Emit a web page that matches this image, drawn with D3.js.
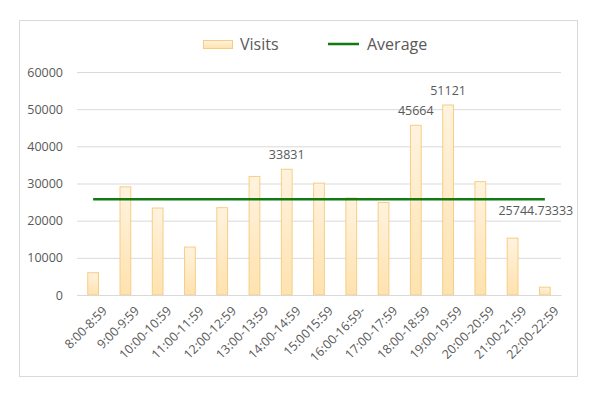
<!DOCTYPE html>
<html>
<head>
<meta charset="utf-8">
<script src="https://cdn.jsdelivr.net/npm/d3@7/dist/d3.min.js"></script>
<style>
  body { margin: 0; background: #fff; }
  text { font-family: "Open Sans", "Noto Sans", sans-serif; fill: #595959; }
</style>
</head>
<body>
<div id="chart"></div>
<script>
// hourly slots, as labelled in the source sheet (typos kept)
const hours = ['8:00-8:59', '9:00-9:59', '10:00-10:59', '11:00-11:59', '12:00-12:59',
  '13:00-13:59', '14:00-14:59', '15:0015:59', '16:00-16:59-', '17:00-17:59',
  '18:00-18:59', '19:00-19:59', '20:00-20:59', '21:00-21:59', '22:00-22:59'];
const visits = [6000, 29100, 23400, 12900, 23500, 31900, 33831, 30100, 26100, 24900,
  45664, 51121, 30500, 15300, 2100];
const average = 25744.73333;
const labelled = ['14:00-14:59', '18:00-18:59', '19:00-19:59'];
const yTicks = [0, 10000, 20000, 30000, 40000, 50000, 60000];

const W = 600, H = 397;
const margin = { top: 72, right: 39, bottom: 102, left: 77 };
const width = W - margin.left - margin.right,
  height = H - margin.top - margin.bottom;

const svg = d3.select('#chart').append('svg')
  .attr('width', W).attr('height', H);

// gradient for the bars, lighter at top
const grad = svg.append('defs').append('linearGradient')
  .attr('id', 'barFill').attr('x1', 0).attr('y1', 0).attr('x2', 0).attr('y2', 1);
grad.append('stop').attr('offset', '0%').attr('stop-color', '#fff3df');
grad.append('stop').attr('offset', '100%').attr('stop-color', '#ffe2ae');

// chart frame
svg.append('rect')
  .attr('x', 19.5).attr('y', 20.5).attr('width', 558).attr('height', 356)
  .attr('fill', '#fff').attr('stroke', '#d9d9d9');

const main = svg.append('g')
  .attr('transform', 'translate(' + margin.left + ',' + margin.top + ')');

const x = d3.scaleBand().domain(hours).range([0, width]);
const y = d3.scaleLinear().domain([0, 60000]).range([height, 0]);

// gridlines + y labels
const yAxis = d3.axisLeft(y).tickValues(yTicks).tickSize(-width).tickPadding(14)
  .tickFormat(d3.format('d'));
main.append('g').call(yAxis)
  .call(g => g.select('.domain').remove())
  .call(g => g.selectAll('.tick line').attr('stroke', '#d9d9d9'))
  .call(g => g.selectAll('.tick text').style('font-size', '12.5px').attr('fill', '#595959'));

// bars
const barW = x.bandwidth() / 3;
main.selectAll('rect.bar')
  .data(visits)
  .enter().append('rect')
  .attr('class', 'bar')
  .attr('x', (d, i) => x(hours[i]) + x.bandwidth() / 2 - barW / 2)
  .attr('y', d => y(d))
  .attr('width', barW)
  .attr('height', d => y(0) - y(d))
  .attr('fill', 'url(#barFill)')
  .attr('stroke', '#f7cd84')
  .attr('stroke-width', 1);

// x axis
const xAxis = d3.axisBottom(x).tickSize(0).tickPadding(8);
main.append('g')
  .attr('transform', 'translate(0,' + height + ')')
  .call(xAxis)
  .call(g => g.select('.domain').attr('stroke', '#d9d9d9'))
  .call(g => g.selectAll('.tick text')
    .style('font-size', '12.5px').attr('fill', '#595959')
    .attr('text-anchor', 'end')
    .attr('dy', '0.35em')
    .attr('transform', 'translate(6,8) rotate(-45)'));

// average line across category centres
const cx = h => x(h) + x.bandwidth() / 2;
main.append('line')
  .attr('x1', cx(hours[0])).attr('x2', cx(hours[hours.length - 1]))
  .attr('y1', y(average)).attr('y2', y(average))
  .attr('stroke', '#137a13').attr('stroke-width', 2.5);

main.append('text')
  .attr('x', cx(hours[hours.length - 1]) - 9)
  .attr('y', y(average) + 11)
  .attr('dy', '0.35em')
  .attr('text-anchor', 'middle')
  .style('font-size', '12.5px')
  .text(average.toFixed(5));

// value labels on selected bars
main.selectAll('text.val')
  .data(visits.filter((d, i) => labelled.includes(hours[i])))
  .enter().append('text')
  .attr('class', 'val')
  .attr('x', d => cx(hours[visits.indexOf(d)]))
  .attr('y', d => y(d) - 10)
  .attr('text-anchor', 'middle')
  .style('font-size', '12.5px')
  .text(d => d);

// legend
const leg = svg.append('g');
leg.append('rect')
  .attr('x', 203.5).attr('y', 40.5).attr('width', 29).attr('height', 8)
  .attr('fill', 'url(#barFill)').attr('stroke', '#f7cd84');
leg.append('text').attr('x', 240).attr('y', 44).attr('dy', '0.35em')
  .style('font-size', '16px').text('Visits');
leg.append('line')
  .attr('x1', 328).attr('x2', 359).attr('y1', 44).attr('y2', 44)
  .attr('stroke', '#137a13').attr('stroke-width', 2.5);
leg.append('text').attr('x', 367).attr('y', 44).attr('dy', '0.35em')
  .style('font-size', '16px').text('Average');
</script>
</body>
</html>
